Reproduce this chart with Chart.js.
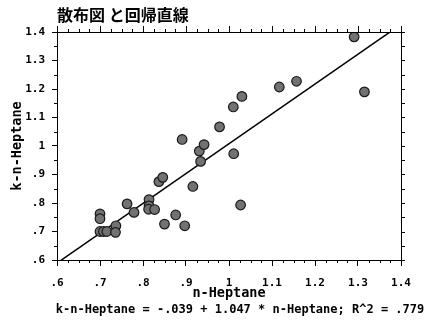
<!DOCTYPE html>
<html>
<head>
<meta charset="utf-8">
<script src="https://cdn.jsdelivr.net/npm/chart.js@4/dist/chart.umd.min.js"></script>
<style>
  html, body { margin: 0; padding: 0; background: #fff; }
  canvas { display: block; }
</style>
</head>
<body>
<canvas id="chart" width="425" height="320"></canvas>
<script>
// n-Heptane (x) and k-n-Heptane (y) for each sample
const nHeptane = [
  0.700, 0.700, 0.700, 0.708, 0.716, 0.737, 0.736, 0.763, 0.779, 0.814,
  0.814, 0.813, 0.827, 0.837, 0.846, 0.850, 0.876, 0.897, 0.891, 0.916,
  0.931, 0.942, 0.934, 0.978, 1.011, 1.010, 1.030, 1.027, 1.117, 1.157,
  1.291, 1.315
];
const kHeptane = [
  0.762, 0.745, 0.700, 0.700, 0.700, 0.720, 0.697, 0.797, 0.767, 0.812,
  0.790, 0.778, 0.777, 0.875, 0.890, 0.726, 0.758, 0.720, 1.023, 0.858,
  0.982, 1.005, 0.946, 1.067, 0.973, 1.137, 1.174, 0.793, 1.207, 1.227,
  1.383, 1.190
];

// fitted regression: k-n-Heptane = intercept + slope * n-Heptane
const intercept = -0.039;
const slope = 1.047;
const rSquared = 0.779;

// axis tick labels (same on both axes)
const tickLabels = ['.6', '.7', '.8', '.9', '1', '1.1', '1.2', '1.3', '1.4'];
const axisMin = 0.6;
const axisMax = 1.4;

const points = nHeptane.map((v, i) => ({ x: v, y: kHeptane[i] }));
const fitLine = [axisMin, axisMax].map(v => ({ x: v, y: intercept + slope * v }));

const fmt = (v) => {
  const s = Math.abs(v).toFixed(3).replace(/^0\./, '.');
  return (v < 0 ? '-' : '') + s;
};
const equation = `k-n-Heptane = ${fmt(intercept)} + ${slope.toFixed(3)} * n-Heptane; R^2 = ${fmt(rSquared)}`;

const MONO = "'DejaVu Sans Mono', 'Liberation Mono', monospace";

// box frame with major/minor tick marks and the equation line
const framePlugin = {
  id: 'frame',
  afterDraw(chart) {
    const { ctx, chartArea: a, scales: { x, y } } = chart;
    ctx.save();
    ctx.strokeStyle = '#000';
    ctx.lineWidth = 1;
    ctx.beginPath();
    // top and right edges
    ctx.moveTo(a.left, a.top + 0.5);
    ctx.lineTo(a.right + 1, a.top + 0.5);
    ctx.moveTo(a.right + 0.5, a.top);
    ctx.lineTo(a.right + 0.5, a.bottom + 1);
    // x ticks every .025
    for (let i = 0; i <= 32; i++) {
      const px = Math.round(x.getPixelForValue(axisMin + i * 0.025)) + 0.5;
      const major = i % 4 === 0;
      ctx.moveTo(px, a.top);
      ctx.lineTo(px, a.top - (major ? 6 : 3));
      if (!major) {
        ctx.moveTo(px, a.bottom);
        ctx.lineTo(px, a.bottom + 3);
      }
    }
    // y ticks every .05
    for (let i = 0; i <= 16; i++) {
      const py = Math.round(y.getPixelForValue(axisMin + i * 0.05)) + 0.5;
      const major = i % 2 === 0;
      ctx.moveTo(a.right, py);
      ctx.lineTo(a.right + 4, py);
      if (!major) {
        ctx.moveTo(a.left, py);
        ctx.lineTo(a.left - 3, py);
      }
    }
    ctx.stroke();

    ctx.fillStyle = '#000';
    ctx.font = 'bold 12px ' + MONO;
    ctx.textAlign = 'center';
    ctx.textBaseline = 'middle';
    ctx.fillText(equation, 240, 310);
    ctx.restore();
  }
};

new Chart(document.getElementById('chart'), {
  data: {
    datasets: [
      {
        type: 'scatter',
        data: points,
        pointRadius: 4.8,
        pointHoverRadius: 4.8,
        pointBackgroundColor: '#727272',
        pointBorderColor: '#1a1a1a',
        pointBorderWidth: 1.2
      },
      {
        type: 'line',
        data: fitLine,
        borderColor: '#000',
        borderWidth: 1.5,
        pointRadius: 0,
        fill: false,
        tension: 0
      }
    ]
  },
  options: {
    responsive: false,
    animation: false,
    devicePixelRatio: 1,
    layout: { padding: { left: 4, right: 24, top: 0, bottom: 0 } },
    plugins: {
      legend: { display: false },
      tooltip: { enabled: false },
      title: {
        display: true,
        text: '散布図 と回帰直線',
        align: 'start',
        fullSize: false,
        color: '#000',
        font: { family: "'Noto Sans CJK JP'", size: 16, weight: 'bold', lineHeight: 1 },
        padding: { top: 7, bottom: 9 }
      }
    },
    scales: {
      x: {
        type: 'linear',
        position: 'bottom',
        min: axisMin,
        max: axisMax,
        afterFit: (s) => { s.height = 60; },
        ticks: {
          stepSize: 0.1,
          color: '#000',
          padding: 12,
          maxRotation: 0,
          font: { family: MONO, size: 11, weight: 'bold', lineHeight: 1 },
          callback: (v, i) => tickLabels[i]
        },
        grid: { drawOnChartArea: false, drawTicks: true, tickLength: 6, color: '#000', tickColor: '#000' },
        border: { display: true, color: '#000', width: 1 },
        title: {
          display: true,
          text: 'n-Heptane',
          color: '#000',
          font: { family: MONO, size: 13.5, weight: 'bold', lineHeight: 1 },
          padding: { top: 0, bottom: 20 }
        }
      },
      y: {
        type: 'linear',
        position: 'left',
        min: axisMin,
        max: axisMax,
        afterFit: (s) => { s.width = 53; },
        ticks: {
          stepSize: 0.1,
          color: '#000',
          padding: 7,
          font: { family: MONO, size: 11, weight: 'bold', lineHeight: 1 },
          callback: (v, i) => tickLabels[i]
        },
        grid: { drawOnChartArea: false, drawTicks: true, tickLength: 5, color: '#000', tickColor: '#000' },
        border: { display: true, color: '#000', width: 1 },
        title: {
          display: true,
          text: 'k-n-Heptane',
          color: '#000',
          font: { family: MONO, size: 13.5, weight: 'bold', lineHeight: 1 },
          padding: { top: 7, bottom: 0 }
        }
      }
    }
  },
  plugins: [framePlugin]
});
</script>
</body>
</html>
